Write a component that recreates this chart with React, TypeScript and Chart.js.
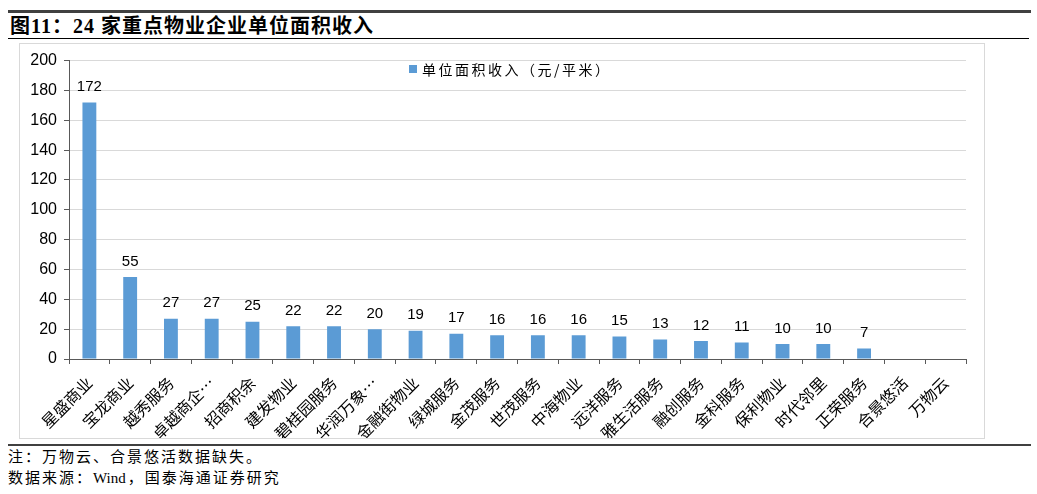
import React, { useEffect, useRef } from 'react';
import { Chart, registerables } from 'chart.js';

Chart.register(...registerables);

// 数据
const companies = [
  '星盛商业', '宝龙商业', '越秀服务', '卓越商企…', '招商积余', '建发物业',
  '碧桂园服务', '华润万象…', '金融街物业', '绿城服务', '金茂服务', '世茂服务',
  '中海物业', '远洋服务', '雅生活服务', '融创服务', '金科服务', '保利物业',
  '时代邻里', '正荣服务', '合景悠活', '万物云',
];
const incomePerArea: (number | null)[] = [
  172, 55, 27, 27, 25, 22, 22, 20, 19, 17, 16, 16,
  16, 15, 13, 12, 11, 10, 10, 7, null, null,
];
const seriesName = '单位面积收入（元/平米）';
const yTicks = [0, 20, 40, 60, 80, 100, 120, 140, 160, 180, 200];

const BAR = '#5B9BD5';
const AXIS = '#595959';
const CJK = '"Noto Sans CJK SC", sans-serif';
const SERIF_CJK = '"Liberation Serif", "Noto Sans CJK SC", serif';

const valueLabels = {
  id: 'valueLabels',
  afterDatasetsDraw(chart: any) {
    const ctx = chart.ctx;
    const meta = chart.getDatasetMeta(0);
    ctx.save();
    ctx.fillStyle = '#000';
    ctx.font = '15px "Liberation Sans", Arial, sans-serif';
    ctx.textAlign = 'center';
    ctx.textBaseline = 'bottom';
    meta.data.forEach((el: any, i: number) => {
      const v = incomePerArea[i];
      if (v == null) return;
      ctx.fillText(String(v), el.x, el.y - 8);
    });
    ctx.restore();
  },
};

const App = () => {
  const canvasRef = useRef<HTMLCanvasElement>(null);

  useEffect(() => {
    if (!canvasRef.current) return;
    const chart = new Chart(canvasRef.current, {
      type: 'bar',
      data: {
        labels: companies,
        datasets: [{
          label: seriesName,
          data: incomePerArea,
          backgroundColor: BAR,
          barPercentage: 0.34,
          categoryPercentage: 1,
        }],
      },
      options: {
        animation: false,
        responsive: false,
        maintainAspectRatio: false,
        layout: { padding: { left: 0, right: 18, top: 15, bottom: 0 } },
        plugins: {
          legend: { display: false },
          tooltip: { enabled: false },
        },
        scales: {
          x: {
            offset: true,
            grid: { drawOnChartArea: false, offset: true, tickColor: AXIS, tickLength: 5 },
            border: { color: AXIS, width: 1 },
            ticks: {
              autoSkip: false,
              maxRotation: 45,
              minRotation: 45,
              padding: 9,
              color: '#000',
              font: { family: CJK, size: 16 },
            },
            afterFit: (scale: any) => { scale.height = 79; },
          },
          y: {
            min: 0,
            max: 200,
            afterBuildTicks: (scale: any) => { scale.ticks = yTicks.map(v => ({ value: v })); },
            grid: { color: '#d9d9d9', tickColor: AXIS, tickLength: 5 },
            border: { color: AXIS, width: 1 },
            ticks: {
              padding: 7,
              color: '#000',
              font: { family: '"Liberation Sans", Arial, sans-serif', size: 16 },
            },
            afterFit: (scale: any) => { scale.width = 49; },
          },
        },
      },
      plugins: [valueLabels],
    });
    return () => chart.destroy();
  }, []);

  return (
    <div style={{ position: 'absolute', left: 0, top: 0, width: 1037, height: 494, background: '#fff' }}>
      <div style={{ position: 'absolute', left: 8, top: 10, width: 1023, height: 3, background: '#404040' }} />
      <div style={{
        position: 'absolute', left: 10, top: 14, lineHeight: '24px', fontSize: 20, letterSpacing: 1,
        fontWeight: 'bold', fontFamily: SERIF_CJK, color: '#000', whiteSpace: 'nowrap',
      }}>
        图11：24 家重点物业企业单位面积收入
      </div>
      <div style={{ position: 'absolute', left: 8, top: 38, width: 1021, height: 1, background: '#000' }} />

      <div style={{
        position: 'absolute', left: 19, top: 43, width: 966, height: 396,
        border: '1px solid #d9d9d9', boxSizing: 'border-box',
      }}>
        <canvas ref={canvasRef} width={964} height={394} style={{ display: 'block', width: 964, height: 394 }} />
      </div>

      {/* 图例 */}
      <div style={{ position: 'absolute', left: 409, top: 65, width: 8, height: 8, background: BAR }} />
      <div style={{
        position: 'absolute', left: 422, top: 59, lineHeight: '20px', fontSize: 14,
        letterSpacing: 2.5, fontFamily: CJK, color: '#000', whiteSpace: 'nowrap',
      }}>
        {seriesName}
      </div>

      <div style={{ position: 'absolute', left: 8, top: 444, width: 1023, height: 2, background: '#404040' }} />
      <div style={{
        position: 'absolute', left: 8, top: 447, lineHeight: '21px', fontSize: 15,
        letterSpacing: 2, fontFamily: SERIF_CJK, color: '#000', whiteSpace: 'nowrap',
      }}>
        <div>注：万物云、合景悠活数据缺失。</div>
        <div>数据来源：<span style={{ letterSpacing: 0, marginRight: 2 }}>Wind</span>，国泰海通证券研究</div>
      </div>
    </div>
  );
};

export default App;
